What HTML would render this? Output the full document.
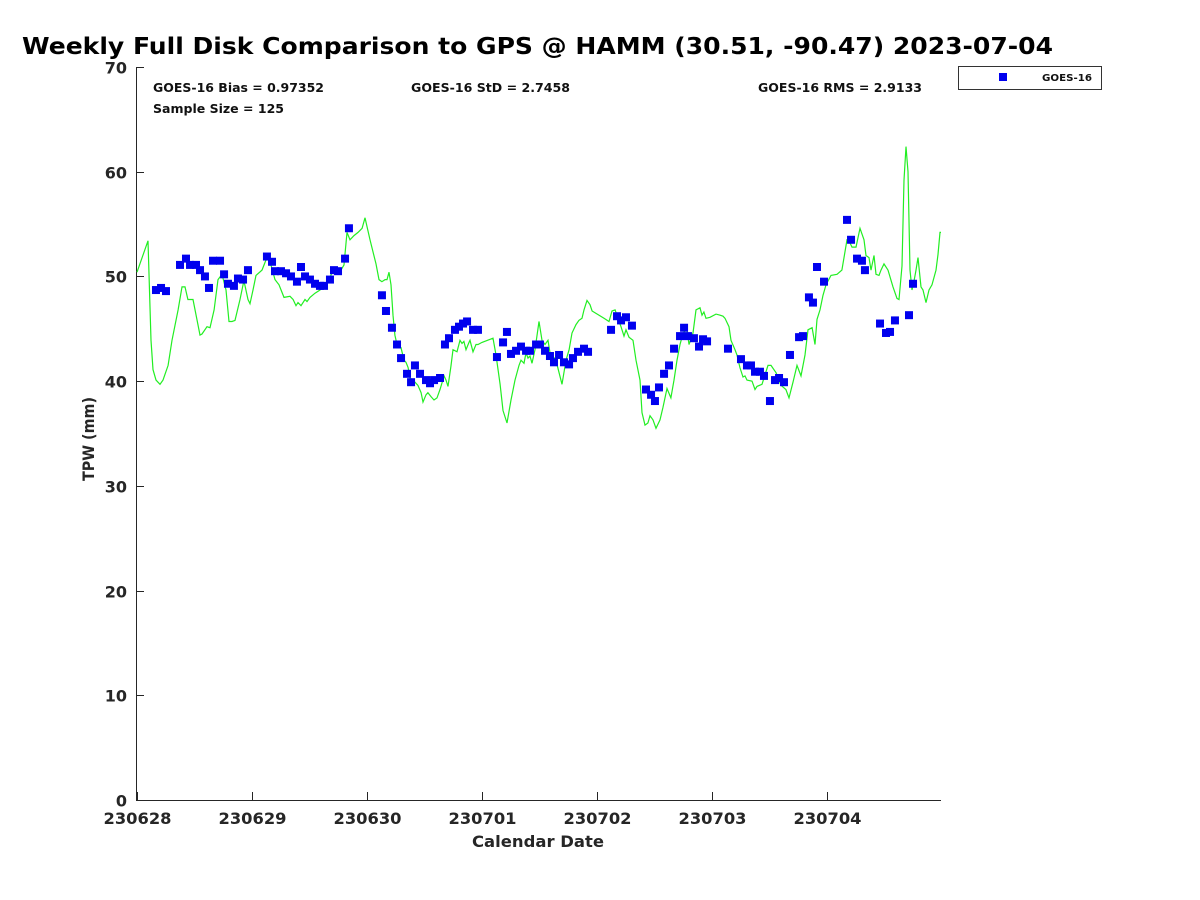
<!DOCTYPE html>
<html><head><meta charset="utf-8"><style>
html,body{margin:0;padding:0;background:#fff;}
svg{display:block;font-family:"DejaVu Sans","Liberation Sans",sans-serif;}
</style></head><body>
<svg id="chart" width="1200" height="900" viewBox="0 0 1200 900">
<text x="22" y="54" font-size="23" font-weight="bold" fill="#000" textLength="1031" lengthAdjust="spacingAndGlyphs">Weekly Full Disk Comparison to GPS @ HAMM (30.51, -90.47) 2023-07-04</text>
<g id="axes"></g>
<g id="series"></g>
<text x="153" y="92" font-size="12" font-weight="bold" fill="#111" textLength="171" lengthAdjust="spacingAndGlyphs">GOES-16 Bias = 0.97352</text>
<text x="411" y="92" font-size="12" font-weight="bold" fill="#111" textLength="159" lengthAdjust="spacingAndGlyphs">GOES-16 StD = 2.7458</text>
<text x="758" y="92" font-size="12" font-weight="bold" fill="#111" textLength="164" lengthAdjust="spacingAndGlyphs">GOES-16 RMS = 2.9133</text>
<text x="153" y="113" font-size="12" font-weight="bold" fill="#111" textLength="131" lengthAdjust="spacingAndGlyphs">Sample Size = 125</text>
<g>
<rect x="958.5" y="66.5" width="143" height="23" fill="#fff" stroke="#333" stroke-width="1"/>
<rect x="999" y="73" width="8" height="8" fill="#0000ee"/>
<text x="1042" y="81" font-size="10" font-weight="bold" fill="#111" textLength="50" lengthAdjust="spacingAndGlyphs">GOES-16</text>
</g>
<text x="472" y="847" font-size="16" font-weight="bold" fill="#262626" textLength="132" lengthAdjust="spacingAndGlyphs">Calendar Date</text>
<text transform="translate(94,481) rotate(-90)" font-size="16" font-weight="bold" fill="#262626" textLength="84" lengthAdjust="spacingAndGlyphs">TPW (mm)</text>
</svg>
<script>
const xTickLabels = ["230628","230629","230630","230701","230702","230703","230704"];
const yTickValues = [0,10,20,30,40,50,60,70];
const goesDays = [0.165,0.209,0.252,0.374,0.426,0.461,0.513,0.548,0.591,0.626,0.661,0.722,0.757,0.791,0.843,0.878,0.922,0.965,1.130,1.174,1.200,1.252,1.296,1.339,1.391,1.426,1.461,1.504,1.548,1.591,1.626,1.678,1.713,1.748,1.809,1.843,2.130,2.165,2.217,2.261,2.296,2.348,2.383,2.417,2.461,2.513,2.548,2.583,2.635,2.678,2.713,2.765,2.800,2.835,2.870,2.922,2.965,3.130,3.183,3.217,3.252,3.296,3.339,3.383,3.417,3.470,3.504,3.548,3.591,3.626,3.670,3.713,3.757,3.791,3.835,3.887,3.922,4.122,4.174,4.209,4.252,4.304,4.426,4.470,4.504,4.539,4.583,4.626,4.670,4.722,4.757,4.791,4.843,4.887,4.922,4.957,5.139,5.252,5.304,5.339,5.374,5.417,5.452,5.504,5.548,5.583,5.626,5.678,5.757,5.791,5.843,5.878,5.913,5.974,6.174,6.209,6.261,6.304,6.330,6.461,6.513,6.548,6.591,6.713,6.748];
const goesTPW = [48.7,48.9,48.6,51.1,51.7,51.1,51.1,50.6,50.0,48.9,51.5,51.5,50.2,49.3,49.1,49.8,49.7,50.6,51.9,51.4,50.5,50.5,50.3,50.0,49.5,50.9,50.0,49.7,49.3,49.1,49.1,49.7,50.6,50.5,51.7,54.6,48.2,46.7,45.1,43.5,42.2,40.7,39.9,41.5,40.7,40.1,39.8,40.1,40.3,43.5,44.1,44.9,45.2,45.5,45.7,44.9,44.9,42.3,43.7,44.7,42.6,42.9,43.3,42.9,42.9,43.5,43.5,42.9,42.4,41.8,42.5,41.8,41.6,42.2,42.8,43.1,42.8,44.9,46.2,45.8,46.1,45.3,39.2,38.7,38.1,39.4,40.7,41.5,43.1,44.3,45.1,44.3,44.1,43.3,44.0,43.8,43.1,42.1,41.5,41.5,40.9,40.9,40.5,38.1,40.1,40.3,39.9,42.5,44.2,44.3,48.0,47.5,50.9,49.5,55.4,53.5,51.7,51.5,50.6,45.5,44.6,44.7,45.8,46.3,49.3];
const gpsDays = [0,0.096,0.122,0.139,0.165,0.2,0.226,0.27,0.304,0.357,0.391,0.417,0.443,0.487,0.548,0.565,0.609,0.635,0.67,0.704,0.739,0.774,0.8,0.826,0.852,0.896,0.93,0.965,0.983,1.009,1.035,1.087,1.13,1.157,1.2,1.235,1.278,1.33,1.357,1.383,1.4,1.426,1.461,1.478,1.504,1.548,1.591,1.635,1.67,1.696,1.722,1.739,1.774,1.8,1.826,1.852,1.887,1.922,1.957,1.983,2.026,2.078,2.104,2.13,2.157,2.174,2.191,2.209,2.226,2.243,2.261,2.296,2.322,2.339,2.357,2.374,2.417,2.443,2.47,2.487,2.513,2.53,2.557,2.583,2.609,2.635,2.67,2.687,2.704,2.73,2.748,2.783,2.809,2.826,2.843,2.861,2.887,2.896,2.922,2.948,2.965,3.0,3.096,3.122,3.157,3.183,3.217,3.252,3.287,3.322,3.339,3.365,3.383,3.4,3.417,3.435,3.461,3.496,3.522,3.548,3.574,3.591,3.609,3.643,3.696,3.73,3.757,3.783,3.817,3.843,3.87,3.887,3.913,3.939,3.957,4.061,4.104,4.13,4.157,4.183,4.209,4.235,4.252,4.278,4.313,4.339,4.374,4.391,4.417,4.443,4.461,4.487,4.513,4.548,4.574,4.609,4.643,4.67,4.696,4.722,4.739,4.757,4.783,4.8,4.835,4.861,4.896,4.913,4.93,4.948,4.983,5.035,5.07,5.096,5.113,5.148,5.165,5.2,5.217,5.243,5.27,5.287,5.304,5.348,5.374,5.391,5.435,5.487,5.513,5.557,5.6,5.643,5.67,5.704,5.739,5.774,5.809,5.835,5.87,5.896,5.913,5.939,5.965,5.991,6.035,6.087,6.13,6.174,6.191,6.217,6.252,6.287,6.322,6.339,6.365,6.383,6.409,6.426,6.452,6.47,6.496,6.53,6.574,6.609,6.626,6.652,6.67,6.687,6.704,6.722,6.739,6.757,6.774,6.791,6.817,6.835,6.861,6.887,6.913,6.948,6.965,6.983,6.991];
const gpsTPW = [50.4,53.4,43.9,41.1,40.1,39.7,40.1,41.5,43.9,46.8,49.0,49.0,47.8,47.8,44.4,44.5,45.2,45.1,46.8,49.7,50.2,48.7,45.7,45.7,45.8,47.8,49.6,47.8,47.4,48.7,50.1,50.6,51.8,51.4,49.7,49.2,48.0,48.1,47.8,47.2,47.5,47.2,47.8,47.6,48.0,48.4,48.7,49.2,49.6,50.4,50.8,50.4,50.6,51.1,54.2,53.5,53.9,54.2,54.6,55.6,53.5,51.2,49.7,49.5,49.7,49.7,50.4,49.2,46.3,44.4,43.5,43.2,42.0,41.8,41.3,40.3,39.9,39.6,38.9,38.0,38.7,38.9,38.5,38.2,38.4,39.2,40.5,40.1,39.5,41.4,43.0,42.8,43.9,43.6,43.8,43.0,43.7,43.9,42.8,43.5,43.5,43.7,44.1,42.5,39.7,37.2,36.0,38.2,40.1,41.5,42.0,41.7,42.7,42.2,42.4,41.7,43.0,45.7,43.9,43.5,43.9,42.7,42.5,42.0,39.7,42.0,43.0,44.6,45.4,45.8,46.0,46.8,47.7,47.3,46.7,46.0,45.7,46.7,46.8,46.0,45.2,44.3,44.9,44.2,43.9,42.0,40.1,37.0,35.8,36.0,36.7,36.3,35.5,36.3,37.5,39.3,38.4,40.1,42.0,43.5,44.2,44.7,44.9,43.5,44.6,46.8,47.0,46.3,46.6,46.0,46.1,46.4,46.3,46.2,46.0,45.2,43.9,43.0,42.5,41.3,40.4,40.5,40.1,40.0,39.2,39.5,39.7,41.5,41.5,40.8,39.6,39.2,38.4,39.9,41.5,40.5,42.5,44.9,45.1,43.5,45.9,46.8,48.2,49.2,50.1,50.2,50.6,53.5,53.4,52.8,52.8,54.6,53.5,52.0,51.8,50.6,52.0,50.2,50.1,50.6,51.2,50.6,49.0,47.9,47.8,51.0,59.2,62.4,60.0,50.6,48.7,49.6,50.6,51.8,49.0,48.7,47.5,48.7,49.2,50.6,52.1,54.2,54.2];

const NS = "http://www.w3.org/2000/svg";
const L = 136, R = 941, T = 67, B = 800;
const xScale = d => 137 + d * 115;
const yScale = v => B - (v / 70) * (B - T);
function mk(tag, attrs, parent) {
  const e = document.createElementNS(NS, tag);
  for (const k in attrs) e.setAttribute(k, attrs[k]);
  parent.appendChild(e);
  return e;
}
const axes = document.getElementById('axes');
const series = document.getElementById('series');

const yAxis = mk('line', {x1: L + 0.5, y1: T, x2: L + 0.5, y2: B, stroke: '#262626', 'stroke-width': 1}, axes);


const xAxis = mk('line', {x1: L, y1: B + 0.5, x2: R, y2: B + 0.5, stroke: '#262626', 'stroke-width': 1}, axes);



yTickValues.forEach(v => {
  const y = Math.round(yScale(v)) + 0.5;
  const t = mk('line', {x1: L, y1: y, x2: L + 8, y2: y, stroke: '#262626'}, axes);
  
  
  const lb = mk('text', {x: 127, y: y + 6, 'text-anchor': 'end', 'font-size': 16, 'font-weight': 'bold', fill: '#262626'}, axes);
  lb.textContent = v;
  
  
});
xTickLabels.forEach((s, i) => {
  const x = Math.round(xScale(i)) + 0.5;
  const t = mk('line', {x1: x, y1: B, x2: x, y2: B - 8, stroke: '#262626'}, axes);
  
  
  const lb = mk('text', {x: x - 34, y: 824, 'font-size': 16, 'font-weight': 'bold', fill: '#262626', textLength: 68, lengthAdjust: 'spacingAndGlyphs'}, axes);
  lb.textContent = s;
  
  
});

const pts = gpsDays.map((d, i) => xScale(d).toFixed(1) + ',' + yScale(gpsTPW[i]).toFixed(1)).join(' ');
const line = mk('polyline', {points: pts, fill: 'none', stroke: '#22ee22', 'stroke-width': 1.2}, series);



goesDays.forEach((d, i) => {
  const r = mk('rect', {x: xScale(d) - 4, y: yScale(goesTPW[i]) - 4, width: 8, height: 8, fill: '#0000ee'}, series);
  
  
});
</script>
</body></html>
